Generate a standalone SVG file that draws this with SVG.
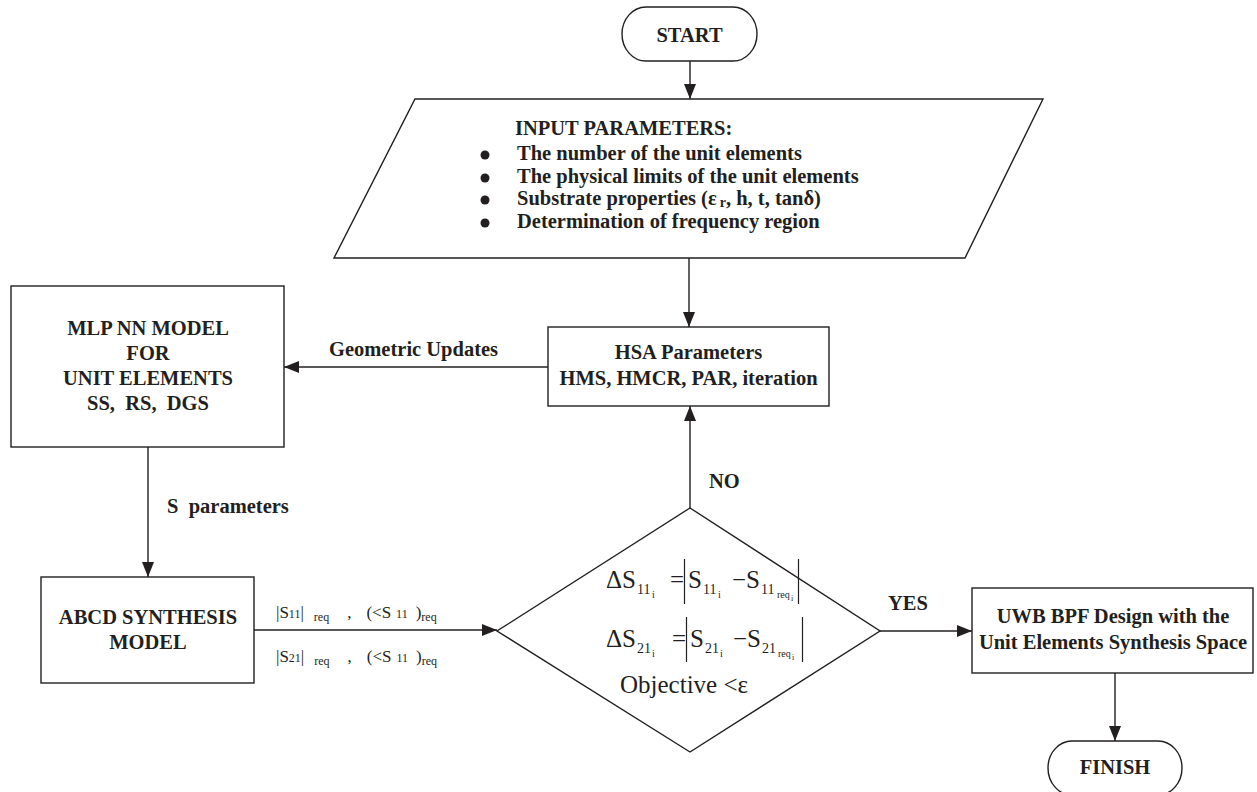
<svg xmlns="http://www.w3.org/2000/svg" width="1257" height="792" viewBox="0 0 1257 792">
<defs>
<style>
.shape{fill:#fff;stroke:#231f20;stroke-width:1.4}
.ln{fill:none;stroke:#231f20;stroke-width:1.4}
.bar{stroke:#231f20;stroke-width:1.2}
text{font-family:"Liberation Serif","Times New Roman",serif;fill:#231f20}
.b{font-weight:bold;font-size:20.5px}
.c{text-anchor:middle}
.m{font-size:25px}
.s{font-size:14px}
.t{font-size:10px}
.lab{font-size:17px}
.sub{font-size:12px}
</style>
<marker id="ah" viewBox="0 0 15 12" refX="15" refY="6" markerWidth="15" markerHeight="12" markerUnits="userSpaceOnUse" orient="auto">
<path d="M0,0 L15,6 L0,12 z" fill="#231f20"/>
</marker>
</defs>
<rect width="1257" height="792" fill="#fff"/>

<g id="connectors">
<line class="ln" x1="690" y1="61" x2="690" y2="99" marker-end="url(#ah)"/>
<line class="ln" x1="689" y1="258" x2="689" y2="327" marker-end="url(#ah)"/>
<line class="ln" x1="548" y1="367" x2="284" y2="367" marker-end="url(#ah)"/>
<line class="ln" x1="148" y1="447" x2="148" y2="577" marker-end="url(#ah)"/>
<line class="ln" x1="254" y1="630" x2="497" y2="630" marker-end="url(#ah)"/>
<line class="ln" x1="690" y1="508" x2="690" y2="406" marker-end="url(#ah)"/>
<line class="ln" x1="880" y1="631" x2="972" y2="631" marker-end="url(#ah)"/>
<line class="ln" x1="1115" y1="673" x2="1115" y2="741" marker-end="url(#ah)"/>
<text class="b" x="329" y="356">Geometric Updates</text>
<text class="b" x="167" y="513" xml:space="preserve">S  parameters</text>
<text class="b" x="709" y="488">NO</text>
<text class="b" x="888" y="610">YES</text>
<text class="lab" x="276" y="618">|S<tspan class="sub">11</tspan>|<tspan class="sub" dx="10" dy="3">req</tspan><tspan dx="18" dy="-3">,</tspan><tspan dx="15">(&lt;S</tspan><tspan class="sub" dx="5">11</tspan><tspan dx="8">)</tspan><tspan class="sub" dy="3">req</tspan></text>
<text class="lab" x="276" y="662">|S<tspan class="sub">21</tspan>|<tspan class="sub" dx="10" dy="3">req</tspan><tspan dx="18" dy="-3">,</tspan><tspan dx="15">(&lt;S</tspan><tspan class="sub" dx="5">11</tspan><tspan dx="8">)</tspan><tspan class="sub" dy="3">req</tspan></text>
</g>

<g id="start">
<rect class="shape" x="622" y="7" width="135" height="54" rx="24" ry="27"/>
<text class="b c" x="689.5" y="42">START</text>
</g>

<g id="input">
<polygon class="shape" points="415,99 1043,99 965,258 334,258"/>
<text class="b" x="515" y="135">INPUT PARAMETERS:</text>
<circle cx="485" cy="155" r="4.5" fill="#231f20"/>
<circle cx="485" cy="178" r="4.5" fill="#231f20"/>
<circle cx="485" cy="200" r="4.5" fill="#231f20"/>
<circle cx="485" cy="223" r="4.5" fill="#231f20"/>
<text class="b" x="517" y="160">The number of the unit elements</text>
<text class="b" x="517" y="183">The physical limits of the unit elements</text>
<text class="b" x="517" y="205">Substrate properties (ε<tspan dx="3" dy="2" font-size="14">r</tspan><tspan dy="-2">, h, t, tanδ)</tspan></text>
<text class="b" x="517" y="228">Determination of frequency region</text>
</g>

<g id="hsa">
<rect class="shape" x="548" y="327" width="281" height="79"/>
<text class="b c" x="688.5" y="359">HSA Parameters</text>
<text class="b c" x="688.5" y="385">HMS, HMCR, PAR, iteration</text>
</g>

<g id="mlp">
<rect class="shape" x="11" y="286" width="273" height="161"/>
<text class="b c" x="148" y="335">MLP NN MODEL</text>
<text class="b c" x="148" y="360">FOR</text>
<text class="b c" x="148" y="385">UNIT ELEMENTS</text>
<text class="b c" x="148" y="410" xml:space="preserve">SS,  RS,  DGS</text>
</g>

<g id="abcd">
<rect class="shape" x="41" y="577" width="213" height="106"/>
<text class="b c" x="148" y="624">ABCD SYNTHESIS</text>
<text class="b c" x="148" y="649">MODEL</text>
</g>

<g id="decision">
<polygon class="shape" points="690,508 880,631 690,752 497,631"/>
<text class="m" x="606" y="588">ΔS</text>
<text class="s" x="637" y="594">11</text>
<text class="t" x="652" y="598">i</text>
<text class="m" x="670" y="588">=</text>
<line class="bar" x1="684.5" y1="559" x2="684.5" y2="604"/>
<text class="m" x="688" y="588">S</text>
<text class="s" x="703" y="594">11</text>
<text class="t" x="718" y="598">i</text>
<text class="m" x="732" y="588">−S</text>
<text class="s" x="761" y="594">11</text>
<text class="t" x="777" y="598">req</text>
<text font-size="8" x="791" y="601">i</text>
<line class="bar" x1="798.5" y1="559" x2="798.5" y2="604"/>

<text class="m" x="606" y="647">ΔS</text>
<text class="s" x="637" y="653">21</text>
<text class="t" x="652" y="657">i</text>
<text class="m" x="672" y="647">=</text>
<line class="bar" x1="686.5" y1="617" x2="686.5" y2="662"/>
<text class="m" x="690" y="647">S</text>
<text class="s" x="705" y="653">21</text>
<text class="t" x="720" y="657">i</text>
<text class="m" x="733" y="647">−S</text>
<text class="s" x="762" y="653">21</text>
<text class="t" x="778" y="657">req</text>
<text font-size="8" x="792" y="660">i</text>
<line class="bar" x1="802.5" y1="617" x2="802.5" y2="662"/>

<text class="m" x="620" y="693" font-size="26">Objective &lt;ε</text>
</g>

<g id="uwb">
<rect class="shape" x="972" y="588" width="281" height="85"/>
<text class="b c" x="1113" y="623">UWB BPF Design with the</text>
<text class="b c" x="1113" y="649">Unit Elements Synthesis Space</text>
</g>

<g id="finish">
<rect class="shape" x="1048" y="741" width="134" height="54" rx="24" ry="27"/>
<text class="b c" x="1115" y="774">FINISH</text>
</g>
</svg>
